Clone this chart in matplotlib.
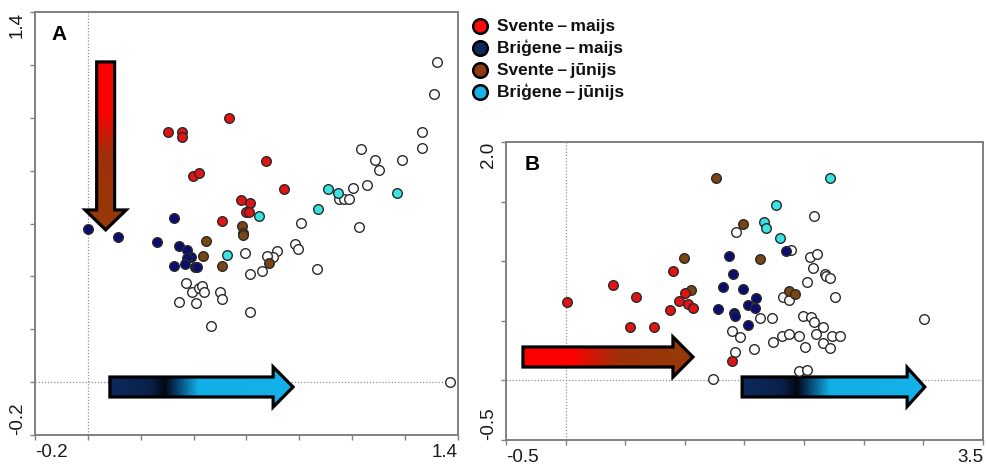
import numpy as np
import matplotlib
matplotlib.use('Agg')
import matplotlib.pyplot as plt
from matplotlib.patches import Polygon
from matplotlib.lines import Line2D
from matplotlib.colors import LinearSegmentedColormap

plt.rcParams['font.family'] = ['Liberation Sans', 'DejaVu Sans']

# ---------------- data ----------------
legend_labels = ['Svente\u2009\u2013\u2009maijs', 'Bri\u0123ene\u2009\u2013\u2009maijs',
                 'Svente\u2009\u2013\u2009j\u016bnijs', 'Bri\u0123ene\u2009\u2013\u2009j\u016bnijs']

# Panel A
a_red_x = [0.303, 0.356, 0.356, 0.534, 0.398, 0.420, 0.674, 0.742, 0.579, 0.613, 0.598, 0.609, 0.507]
a_red_y = [0.946, 0.946, 0.927, 0.999, 0.780, 0.791, 0.836, 0.730, 0.689, 0.678, 0.644, 0.644, 0.610]
a_navy_x = [0.000, 0.114, 0.326, 0.261, 0.345, 0.375, 0.390, 0.375, 0.326, 0.367, 0.405, 0.413]
a_navy_y = [0.579, 0.549, 0.621, 0.530, 0.515, 0.500, 0.473, 0.469, 0.439, 0.447, 0.436, 0.436]
a_brown_x = [0.447, 0.435, 0.507, 0.583, 0.587, 0.587, 0.685]
a_brown_y = [0.534, 0.477, 0.439, 0.591, 0.564, 0.557, 0.451]
a_cyan_x = [0.647, 0.526, 0.870, 0.908, 0.946, 1.169]
a_cyan_y = [0.628, 0.481, 0.655, 0.730, 0.715, 0.715]
a_open_x = [1.321, 1.309, 1.264, 1.264, 1.033, 1.086, 1.188, 1.101, 1.056, 1.003, 0.950, 0.969,
            0.988, 0.806, 1.026, 0.783, 0.795, 0.715, 0.700, 0.678, 0.867, 0.594, 0.613, 0.659,
            0.371, 0.394, 0.420, 0.432, 0.439, 0.500, 0.507, 0.345, 0.409, 0.613, 0.466, 1.370]
a_open_y = [1.211, 1.090, 0.946, 0.886, 0.882, 0.840, 0.840, 0.802, 0.746, 0.734, 0.693, 0.693,
            0.693, 0.602, 0.587, 0.522, 0.504, 0.496, 0.473, 0.477, 0.428, 0.488, 0.409, 0.420,
            0.375, 0.341, 0.356, 0.364, 0.341, 0.341, 0.314, 0.303, 0.299, 0.265, 0.212, 0.000]

# Panel B
b_red_x = [0.012, 0.397, 0.590, 0.540, 0.741, 0.875, 0.900, 0.951, 1.001, 1.026, 1.068, 1.395]
b_red_y = [0.658, 0.800, 0.700, 0.448, 0.448, 0.591, 0.918, 0.666, 0.733, 0.641, 0.607, 0.163]
b_navy_x = [1.848, 1.370, 1.404, 1.320, 1.487, 1.596, 1.529, 1.588, 1.278, 1.412, 1.420, 1.529]
b_navy_y = [1.086, 1.044, 0.893, 0.784, 0.767, 0.691, 0.633, 0.607, 0.599, 0.565, 0.540, 0.465]
b_brown_x = [1.261, 1.487, 0.993, 1.630, 1.051, 1.873, 1.923]
b_brown_y = [1.698, 1.312, 1.027, 1.018, 0.758, 0.750, 0.725]
b_cyan_x = [2.217, 1.764, 1.664, 1.680, 1.798]
b_cyan_y = [1.698, 1.471, 1.329, 1.279, 1.195]
b_open_x = [1.429, 2.083, 1.890, 2.049, 2.108, 2.074, 2.024, 2.175, 2.183, 2.217, 1.823, 1.873,
            2.259, 1.630, 1.731, 1.395, 1.462, 1.420, 1.580, 1.739, 1.814, 1.873, 1.957, 1.991,
            2.058, 2.083, 2.158, 2.100, 2.007, 2.158, 2.234, 2.301, 2.217, 1.957, 2.024, 1.236, 3.005]
b_open_y = [1.245, 1.379, 1.094, 1.035, 1.060, 0.943, 0.826, 0.893, 0.876, 0.859, 0.700, 0.674,
            0.700, 0.523, 0.523, 0.414, 0.364, 0.238, 0.263, 0.322, 0.372, 0.389, 0.372, 0.540,
            0.532, 0.490, 0.448, 0.389, 0.280, 0.314, 0.372, 0.372, 0.272, 0.079, 0.087, 0.012, 0.515]

a_ticks = [-0.2, 0.0, 0.2, 0.4, 0.6, 0.8, 1.0, 1.2, 1.4]
a_ticklabels = ['-0.2', '', '', '', '', '', '', '', '1.4']
b_xticks = [-0.5, 0.0, 0.5, 1.0, 1.5, 2.0, 2.5, 3.0, 3.5]
b_xticklabels = ['-0.5', '', '', '', '', '', '', '', '3.5']
b_yticks = [-0.5, 0.0, 0.5, 1.0, 1.5, 2.0]
b_yticklabels = ['-0.5', '', '', '', '', '2.0']

# ---------------- styles ----------------
col_red = '#e01414'
col_navy = '#0a0c6e'
col_brown = '#7a4514'
col_cyan = '#3ae2e2'
leg_colors = ['#ff0a0a', '#0c2a5e', '#8e3a10', '#18b2e8']
spine_col = '#808080'

W, H = 987, 465
fig = plt.figure(figsize=(W / 100, H / 100), dpi=100)
fig.patch.set_facecolor('white')

axA = fig.add_axes([35 / W, 30 / H, 423 / W, 423 / H])
axB = fig.add_axes([506 / W, 25 / H, 477 / W, 298 / H])

cmap_rb = LinearSegmentedColormap.from_list('rb', [(0, '#ff0000'), (0.28, '#ff0000'),
                                                    (0.55, '#a0300a'), (1, '#963a08')])
cmap_bl = LinearSegmentedColormap.from_list('bl', [(0, '#0c2a5e'), (0.22, '#0a2048'),
                                                    (0.30, '#020814'), (0.36, '#063a66'),
                                                    (0.48, '#12aee6'), (1, '#14b2ea')])


def grad_arrow(ax, x0, xh, xt, c, sh, hh, cmap, vertical=False):
    if not vertical:
        pts = [(x0, c - sh), (xh, c - sh), (xh, c - hh), (xt, c), (xh, c + hh), (xh, c + sh), (x0, c + sh)]
        grad = np.linspace(0, 1, 256).reshape(1, -1)
        ext = (x0, xt, c - hh, c + hh)
    else:
        pts = [(c - sh, x0), (c - sh, xh), (c - hh, xh), (c, xt), (c + hh, xh), (c + sh, xh), (c + sh, x0)]
        grad = np.linspace(0, 1, 256).reshape(-1, 1)
        ext = (c - hh, c + hh, xt, x0)
    clip = Polygon(pts, closed=True, transform=ax.transAxes, facecolor='none', edgecolor='none')
    ax.add_patch(clip)
    im = ax.imshow(grad, cmap=cmap, extent=ext, transform=ax.transAxes, aspect='auto',
                   origin='upper', zorder=1.5, interpolation='bilinear')
    im.set_clip_path(clip)
    ax.add_patch(Polygon(pts, closed=True, transform=ax.transAxes, facecolor='none',
                         edgecolor='black', lw=2.3, joinstyle='miter', zorder=1.6))


def style_axes(ax, xt, xtl, yt, ytl, xlim, ylim):
    ax.set_xlim(*xlim)
    ax.set_ylim(*ylim)
    ax.autoscale(False)
    for s in ax.spines.values():
        s.set_color(spine_col)
        s.set_linewidth(1.4)
    ax.set_xticks(xt)
    ax.set_xticklabels(xtl, fontsize=13.5, color='#1a1a1a')
    ax.set_yticks(yt)
    ax.set_yticklabels(ytl, fontsize=13.5, color='#1a1a1a', rotation=90)
    ax.tick_params(direction='out', length=3.5, width=1, color=spine_col, pad=3)
    xl = ax.get_xticklabels()
    xl[0].set_ha('left')
    xl[-1].set_ha('right')
    yl = ax.get_yticklabels()
    for t in yl:
        t.set_ha('right')
    yl[0].set_va('bottom')
    yl[-1].set_va('top')
    ax.axvline(0, color='#909090', lw=0.9, ls=(0, (1, 1.5)), zorder=1)
    ax.axhline(0, color='#909090', lw=0.9, ls=(0, (1, 1.5)), zorder=1)


def scatter_groups(ax, groups):
    for x, y, fc in groups:
        ax.scatter(x, y, s=48, facecolor=fc, edgecolor='#2a2a2a', linewidths=1.0, zorder=3)


# Panel A
scatter_groups(axA, [(a_open_x, a_open_y, 'white'), (a_cyan_x, a_cyan_y, col_cyan),
                     (a_navy_x, a_navy_y, col_navy), (a_brown_x, a_brown_y, col_brown),
                     (a_red_x, a_red_y, col_red)])
grad_arrow(axA, 0.882, 0.532, 0.485, 0.167, 0.0212, 0.0485, cmap_rb, vertical=True)
grad_arrow(axA, 0.177, 0.563, 0.610, 0.1135, 0.0236, 0.0475, cmap_bl)
style_axes(axA, a_ticks, a_ticklabels, a_ticks, a_ticklabels, (-0.2, 1.4), (-0.2, 1.4))
axA.text(0.038, 0.969, 'A', transform=axA.transAxes, ha='left', va='top',
         fontsize=15, fontweight='bold')

# Panel B
scatter_groups(axB, [(b_open_x, b_open_y, 'white'), (b_cyan_x, b_cyan_y, col_cyan),
                     (b_navy_x, b_navy_y, col_navy), (b_brown_x, b_brown_y, col_brown),
                     (b_red_x, b_red_y, col_red)])
grad_arrow(axB, 0.0356, 0.350, 0.392, 0.2785, 0.0336, 0.0675, cmap_rb)
grad_arrow(axB, 0.495, 0.841, 0.878, 0.178, 0.0336, 0.0655, cmap_bl)
style_axes(axB, b_xticks, b_xticklabels, b_yticks, b_yticklabels, (-0.5, 3.5), (-0.5, 2.0))
axB.text(0.040, 0.956, 'B', transform=axB.transAxes, ha='left', va='top',
         fontsize=15, fontweight='bold')

# Legend
for i, (lab, c) in enumerate(zip(legend_labels, leg_colors)):
    yy = 1 - (26 + 22 * i) / H
    fig.add_artist(Line2D([480 / W], [yy], transform=fig.transFigure, marker='o', ms=10.5,
                          mfc=c, mec='black', mew=1.8, ls='none'))
    fig.text(497 / W, yy, lab, ha='left', va='center', fontsize=12.5, fontweight='bold',
             color='#111111')

fig.savefig('out.png', dpi=100, facecolor='white')
